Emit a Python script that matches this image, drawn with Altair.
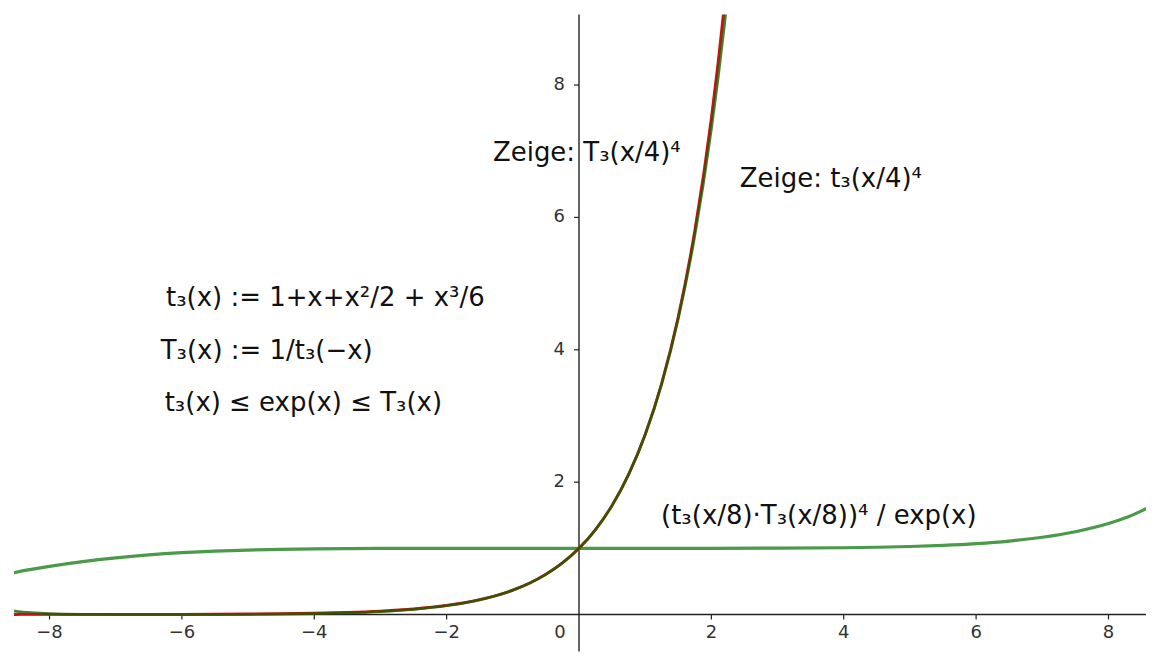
import altair as alt
import pandas as pd

# ---- data ----
# t3(x/4)^4  (green, steep)
x_small = [-8.6, -8.5, -8.0, -7.5, -7.0, -6.5, -6.0, -5.5, -5.0, -4.5, -4.0, -3.5, -3.0, -2.5, -2.0,
           -1.5, -1.25, -1.0, -0.75, -0.5, -0.25, 0.0, 0.25, 0.5, 0.75, 1.0, 1.25, 1.5, 1.75, 2.0,
           2.1, 2.2, 2.3]
y_small = [0.0601, 0.0472, 0.0123, 0.00217, 0.000157, 0.0, 0.0000153, 0.000353, 0.00179, 0.00536,
           0.0123, 0.0246, 0.0451, 0.0787, 0.1333, 0.2221, 0.2859, 0.3676, 0.4723, 0.6065, 0.7788,
           1.0, 1.2840, 1.6461, 2.1166, 2.7168, 3.4860, 4.4707, 5.7298, 7.3374, 8.0982, 8.9363, 9.8595]

# T3(x/4)^4  (red, steep)
x_big = [-8.6, -8.5, -8.0, -7.5, -7.0, -6.5, -6.0, -5.5, -5.0, -4.5, -4.0, -3.5, -3.0, -2.5, -2.0,
         -1.5, -1.25, -1.0, -0.75, -0.5, -0.25, 0.0, 0.25, 0.5, 0.75, 1.0, 1.25, 1.5, 1.75, 2.0,
         2.1, 2.2, 2.3]
y_big = [0.00039, 0.00042, 0.00062, 0.00093, 0.00139, 0.00212, 0.00325, 0.00504, 0.00788, 0.01243,
         0.01977, 0.03172, 0.05127, 0.08337, 0.1363, 0.2237, 0.2869, 0.3681, 0.4725, 0.6075, 0.7788,
         1.0, 1.2836, 1.6488, 2.1175, 2.7204, 3.4975, 4.5024, 5.805, 7.503, 8.326, 9.243, 10.269]

# (t3(x/8)*T3(x/8))^4 / exp(x)  (light green, flat)
x_ratio = [-8.7, -8.3, -8.0, -7.5, -7.0, -6.5, -6.0, -5.5, -5.0, -4.5, -4.0, -3.0, -2.0, -1.0, 0.0,
           1.0, 2.0, 3.0, 4.0, 4.5, 5.0, 5.5, 6.0, 6.5, 7.0, 7.5, 8.0, 8.3, 8.7]
y_ratio = [0.6016, 0.6773, 0.7278, 0.7997, 0.8569, 0.9009, 0.9336, 0.9571, 0.9735, 0.9845, 0.9914,
           0.9980, 0.9998, 1.0, 1.0, 1.0, 1.0002, 1.0020, 1.0086, 1.0158, 1.0272, 1.0448, 1.0711,
           1.1100, 1.1670, 1.2505, 1.3741, 1.4766, 1.6623]

x_ticks = [-8, -6, -4, -2, 2, 4, 6, 8]
x_tick_labels = ["−8", "−6", "−4", "−2", "2", "4", "6", "8"]
y_ticks = [2, 4, 6, 8]
y_tick_labels = ["2", "4", "6", "8"]
origin_label = ["0"]

note_texts = [
    "Zeige: T₃(x/4)⁴",
    "Zeige: t₃(x/4)⁴",
    "t₃(x) := 1+x+x²/2 + x³/6",
    "T₃(x) := 1/t₃(−x)",
    "t₃(x) ≤ exp(x) ≤ T₃(x)",
    "(t₃(x/8)·T₃(x/8))⁴ / exp(x)",
]
note_x = [-1.30, 2.43, -6.24, -6.32, -6.26, 1.24]
note_y = [6.97, 6.58, 4.78, 3.98, 3.20, 1.49]

X_DOMAIN = [-8.537, 8.567]
Y_DOMAIN = [-0.558, 9.065]

xs = alt.Scale(domain=X_DOMAIN, nice=False, zero=False)
ys = alt.Scale(domain=Y_DOMAIN, nice=False, zero=False)

df_small = pd.DataFrame({"x": x_small, "y": y_small})
df_big = pd.DataFrame({"x": x_big, "y": y_big})
df_ratio = pd.DataFrame({"x": x_ratio, "y": y_ratio})
df_xt = pd.DataFrame({"v": x_ticks, "lab": x_tick_labels, "z": [0] * len(x_ticks)})
df_yt = pd.DataFrame({"v": y_ticks, "lab": y_tick_labels, "z": [0] * len(y_ticks)})
df_origin = pd.DataFrame({"v": [0], "z": [0], "lab": origin_label})
df_notes = pd.DataFrame({"x": note_x, "y": note_y, "t": note_texts})

FONT = "DejaVu Sans"


def line(df, color, width, opacity=1.0):
    return alt.Chart(df).mark_line(
        clip=True, color=color, strokeWidth=width, opacity=opacity, interpolate="monotone"
    ).encode(
        x=alt.X("x:Q", scale=xs, axis=None),
        y=alt.Y("y:Q", scale=ys, axis=None),
    )


ratio_line = line(df_ratio, "#4a9a4a", 3.2)
big_line = line(df_big, "#d01010", 2.8)
small_line = line(df_small, "#1f5c00", 2.8, 0.8)

x_axis = alt.Chart(df_origin).mark_rule(color="#222", strokeWidth=1.4).encode(
    y=alt.Y("z:Q", scale=ys, axis=None)
)
y_axis = alt.Chart(df_origin).mark_rule(color="#222", strokeWidth=1.4).encode(
    x=alt.X("v:Q", scale=xs, axis=None)
)

x_tick_marks = alt.Chart(df_xt).mark_rule(color="#222", strokeWidth=1.2, y2Offset=5).encode(
    x=alt.X("v:Q", scale=xs, axis=None),
    y=alt.Y("z:Q", scale=ys, axis=None),
    y2="z:Q",
)
y_tick_marks = alt.Chart(df_yt).mark_rule(color="#222", strokeWidth=1.2, x2Offset=-5).encode(
    y=alt.Y("v:Q", scale=ys, axis=None),
    x=alt.X("z:Q", scale=xs, axis=None),
    x2="z:Q",
)

x_labels = alt.Chart(df_xt).mark_text(
    font=FONT, fontSize=18, color="#333", baseline="middle", align="center", dy=19
).encode(
    x=alt.X("v:Q", scale=xs, axis=None),
    y=alt.Y("z:Q", scale=ys, axis=None),
    text="lab:N",
)
zero_label = alt.Chart(df_origin).mark_text(
    font=FONT, fontSize=18, color="#333", baseline="middle", align="center", dy=19, dx=-19
).encode(
    x=alt.X("v:Q", scale=xs, axis=None),
    y=alt.Y("z:Q", scale=ys, axis=None),
    text="lab:N",
)
y_labels = alt.Chart(df_yt).mark_text(
    font=FONT, fontSize=18, color="#333", baseline="middle", align="right", dx=-14
).encode(
    y=alt.Y("v:Q", scale=ys, axis=None),
    x=alt.X("z:Q", scale=xs, axis=None),
    text="lab:N",
)

notes = alt.Chart(df_notes).mark_text(
    font=FONT, fontSize=26, color="#111", baseline="middle", align="left"
).encode(
    x=alt.X("x:Q", scale=xs, axis=None),
    y=alt.Y("y:Q", scale=ys, axis=None),
    text="t:N",
)

chart = alt.layer(
    x_axis, y_axis, x_tick_marks, y_tick_marks, x_labels, zero_label, y_labels,
    ratio_line, big_line, small_line, notes,
).properties(
    width=1134,
    height=638,
    padding={"left": 5, "top": 5, "right": 0, "bottom": 0},
    background="white",
).configure_view(strokeWidth=0, stroke="transparent")

chart.save("out.html", embed_options={"renderer": "svg", "actions": False})
